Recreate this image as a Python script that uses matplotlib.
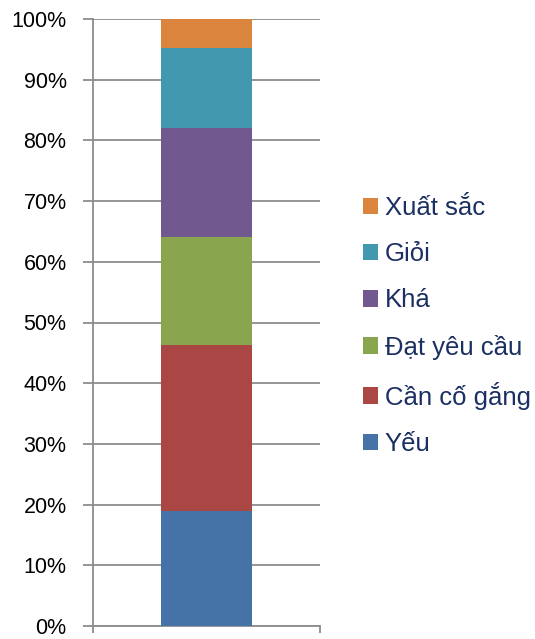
import matplotlib
matplotlib.use("Agg")
import matplotlib.pyplot as plt
from matplotlib.patches import Patch

plt.rcParams['font.family'] = ['Liberation Sans', 'DejaVu Sans']

categories = ["Yếu", "Cần cố gắng", "Đạt yêu cầu", "Khá", "Giỏi", "Xuất sắc"]
values = [18.9, 27.4, 17.8, 17.9, 13.3, 4.7]
colors = ["#4572A7", "#AA4643", "#89A54E", "#71588F", "#4198AF", "#DB843D"]
yticks = [0, 10, 20, 30, 40, 50, 60, 70, 80, 90, 100]
ytick_labels = [f"{v}%" for v in yticks]

fig = plt.figure(figsize=(5.35, 6.39), dpi=100)
ax = fig.add_axes([93/535, 13/639, 227/535, 607/639])

bottom = 0
for cat, val, col in zip(categories, values, colors):
    ax.bar(0, val, width=0.405, bottom=bottom, color=col, label=cat, zorder=3)
    bottom += val

ax.set_xlim(-0.5, 0.5)
ax.set_ylim(0, 100)
ax.set_yticks(yticks)
ax.set_yticklabels(ytick_labels, fontsize=15.5, color="#000000")
ax.set_xticks([-0.5, 0.5])
ax.set_xticklabels(["", ""])
ax.yaxis.grid(True, color="#8C8C8C", linewidth=1.3, zorder=0)
for s in ["top", "right"]:
    ax.spines[s].set_visible(False)
for s in ["left", "bottom"]:
    ax.spines[s].set_color("#8C8C8C")
    ax.spines[s].set_linewidth(1.3)
ax.tick_params(axis="y", length=7, width=1.3, color="#8C8C8C", pad=12)
ax.tick_params(axis="x", length=5, width=1.3, color="#8C8C8C")

handles = [Patch(facecolor=c, edgecolor="none") for c in colors]
leg = fig.legend(handles[::-1], categories[::-1], loc="center left",
                 bbox_to_anchor=(363/535, 1 - 326/639), frameon=False,
                 fontsize=18.5, labelspacing=0.86, handlelength=0.6,
                 handleheight=0.6, handletextpad=0.25, borderaxespad=0,
                 borderpad=0)
for t in leg.get_texts():
    t.set_color("#1B2F63")

fig.savefig("out.png", dpi=100)
